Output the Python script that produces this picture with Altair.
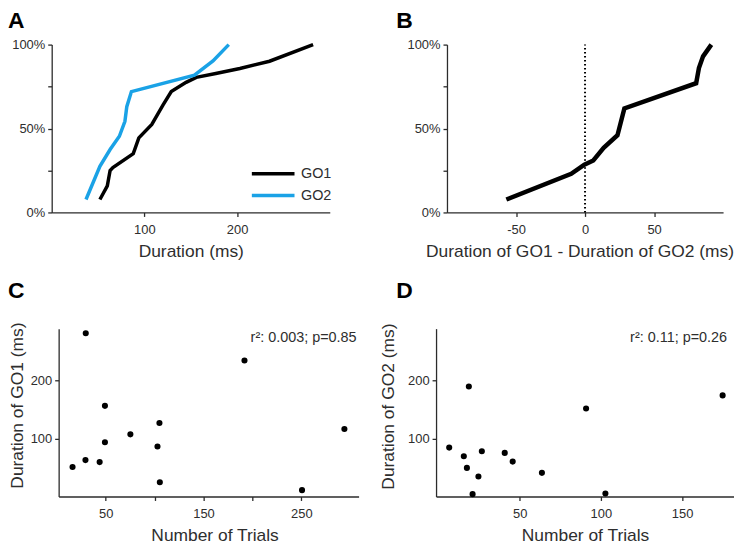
import altair as alt
import pandas as pd

# ---------------- data ----------------
# Panel A: cumulative distribution of durations (ms, % of cells)
go1_cdf_ms = [52, 60, 63, 66, 88, 94, 108, 120, 129, 145, 156, 177, 203, 235, 282]
go1_cdf_pct = [7.7, 15.8, 25, 26.8, 35, 44.4, 52.5, 64, 72, 77.5, 80.5, 82.8, 85.8, 90.1, 100]
go2_cdf_ms = [37, 52, 63, 73, 79, 81, 86, 154, 174, 191]
go2_cdf_pct = [7.7, 27.5, 37.5, 45.4, 54.3, 63, 72, 81.8, 90.3, 100]

# Panel B: cumulative distribution of GO1 - GO2 duration differences
diff_ms = [-57, -10, -0.5, 6, 13.5, 23.5, 28.5, 80.5, 82.5, 85.5, 91.5]
diff_pct = [7.7, 23, 28.5, 31, 38.5, 46, 62, 77, 86, 93, 100]

# Panel C: number of trials vs GO1 duration
trials_c = [29.7, 191.9, 49.3, 105, 294, 75.3, 49.3, 103, 29.4, 43.9, 16.2, 105.4, 250.7]
go1_dur = [282, 235, 156.6, 127, 116.6, 107.4, 93.7, 86.3, 62.9, 59.4, 50.9, 24.6, 10.9]
stats_c = "r²: 0.003; p=0.85"

# Panel D: number of trials vs GO2 duration
trials_d = [18.7, 175, 90.9, 6.6, 26.7, 40.8, 15.6, 45.7, 17.5, 63.7, 24.6, 21, 102.8]
go2_dur = [190, 174.7, 152, 84.5, 78.2, 75.3, 69.5, 60.3, 49.4, 40.8, 34.5, 4, 5.2]
stats_d = "r²: 0.11; p=0.26"

series_names = ["GO1", "GO2"]
series_colors = ["#000000", "#1AA2E6"]

# ---------------- styling ----------------
FONT = "Liberation Sans"
TXT = "#2e2e2e"
H = 169

cdf_a = pd.DataFrame(
    {"ms": go1_cdf_ms + go2_cdf_ms,
     "pct": go1_cdf_pct + go2_cdf_pct,
     "series": ["GO1"] * len(go1_cdf_ms) + ["GO2"] * len(go2_cdf_ms)}
)
cdf_b = pd.DataFrame({"diff": diff_ms, "pct": diff_pct})
sc_c = pd.DataFrame({"trials": trials_c, "dur": go1_dur})
sc_d = pd.DataFrame({"trials": trials_d, "dur": go2_dur})


def pct_axis():
    return alt.Axis(values=[0, 25, 50, 75, 100],
                    labelExpr="datum.value % 50 == 0 ? datum.value + '%' : ''",
                    title=None)


def letter(ch, dx, dy):
    return alt.Chart(pd.DataFrame({"t": [ch]})).mark_text(
        align="left", baseline="alphabetic", fontSize=23, fontWeight="bold",
        font=FONT, color="#000000"
    ).encode(text="t:N", x=alt.value(dx), y=alt.value(dy))


def spacer(w):
    return alt.Chart(pd.DataFrame({"s": [0]})).mark_point(size=0, opacity=0).encode(
        x=alt.value(0), y=alt.value(0)
    ).properties(width=w, height=H)


# Panel A
WA = 280
lines_a = alt.Chart(cdf_a).mark_line(strokeWidth=3.5).encode(
    x=alt.X("ms:Q", scale=alt.Scale(domain=[0, 300], nice=False),
            axis=alt.Axis(values=[100, 200], title="Duration (ms)")),
    y=alt.Y("pct:Q", scale=alt.Scale(domain=[0, 100], nice=False), axis=pct_axis()),
    color=alt.Color("series:N",
                    scale=alt.Scale(domain=series_names, range=series_colors),
                    legend=alt.Legend(orient="none", legendX=214, legendY=121, title=None,
                                      symbolType="M-3,0H3", symbolSize=205,
                                      symbolStrokeWidth=3.5, labelFontSize=14.5,
                                      labelOffset=19, rowPadding=6, padding=0,
                                      labelColor=TXT, labelFont=FONT)),
    order=alt.Order("ms:Q"),
)
panel_a = alt.layer(lines_a, letter("A", -44, -17)).properties(width=WA, height=H)

# Panel B
WB = 278
line_b = alt.Chart(cdf_b).mark_line(strokeWidth=4.5, color="#000000").encode(
    x=alt.X("diff:Q", scale=alt.Scale(domain=[-100, 100], nice=False),
            axis=alt.Axis(values=[-50, 0, 50], labelExpr="'' + datum.value",
                          title="Duration of GO1 - Duration of GO2 (ms)",
                          titleX=133.5)),
    y=alt.Y("pct:Q", scale=alt.Scale(domain=[0, 100], nice=False), axis=pct_axis()),
    order=alt.Order("diff:Q"),
)
zero_b = alt.Chart(pd.DataFrame({"z": [0]})).mark_rule(
    color="#000000", strokeWidth=2, strokeDash=[1.5, 2.5]
).encode(x="z:Q", y=alt.datum(0), y2=alt.datum(100))
panel_b = alt.layer(zero_b, line_b, letter("B", -51, -17)).properties(width=WB, height=H)

# Panel C
WC = 302
pts_c = alt.Chart(sc_c).mark_circle(size=38, color="#000000", opacity=1).encode(
    x=alt.X("trials:Q", scale=alt.Scale(domain=[2, 308.5], nice=False, zero=False),
            axis=alt.Axis(values=[50, 100, 150, 200, 250],
                          labelExpr="datum.value % 100 == 50 ? datum.label : ''",
                          title="Number of Trials", titleX=157)),
    y=alt.Y("dur:Q", scale=alt.Scale(domain=[0, 290], nice=False),
            axis=alt.Axis(values=[100, 200], title="Duration of GO1 (ms)",
                          titlePadding=4, titleY=77)),
)
txt_c = alt.Chart(pd.DataFrame({"t": [stats_c]})).mark_text(
    align="right", baseline="alphabetic", fontSize=14.5, font=FONT, color=TXT
).encode(text="t:N", x=alt.value(WC - 2), y=alt.value(13.5))
panel_c = alt.layer(pts_c, txt_c, letter("C", -51, -30.5)).properties(width=WC, height=H)

# Panel D
WD = 300
pts_d = alt.Chart(sc_d).mark_circle(size=38, color="#000000", opacity=1).encode(
    x=alt.X("trials:Q", scale=alt.Scale(domain=[-1.5, 182], nice=False, zero=False),
            axis=alt.Axis(values=[50, 100, 150], title="Number of Trials")),
    y=alt.Y("dur:Q", scale=alt.Scale(domain=[0, 290], nice=False),
            axis=alt.Axis(values=[100, 200], title="Duration of GO2 (ms)",
                          titlePadding=10, titleY=78)),
)
txt_d = alt.Chart(pd.DataFrame({"t": [stats_d]})).mark_text(
    align="right", baseline="alphabetic", fontSize=14.5, font=FONT, color=TXT
).encode(text="t:N", x=alt.value(WD - 7), y=alt.value(13.5))
panel_d = alt.layer(pts_d, txt_d, letter("D", -40, -30.5)).properties(width=WD, height=H)

row1 = alt.hconcat(panel_a, spacer(118), panel_b, spacing=0, bounds="flush")
row2 = alt.hconcat(spacer(7), panel_c, spacer(78), panel_d, spacing=0, bounds="flush")

# with flush bounds the nested rows count as zero-height, so the spacing is row offset
chart = alt.vconcat(row1, row2, spacing=286, bounds="flush", padding=0).configure_view(
    stroke=None
).configure_axis(
    grid=False,
    domainColor="#2b2b2b", domainWidth=1.3,
    tickColor="#2b2b2b", tickWidth=1.3, tickSize=4,
    labelFont=FONT, labelFontSize=13, labelColor=TXT,
    titleFont=FONT, titleFontSize=17.5, titleColor=TXT, titleFontWeight="normal",
).configure_axisX(
    labelPadding=7, titlePadding=6
).configure_axisY(
    labelPadding=3
)

chart.save("out.html", embed_options={"renderer": "svg", "actions": False})
